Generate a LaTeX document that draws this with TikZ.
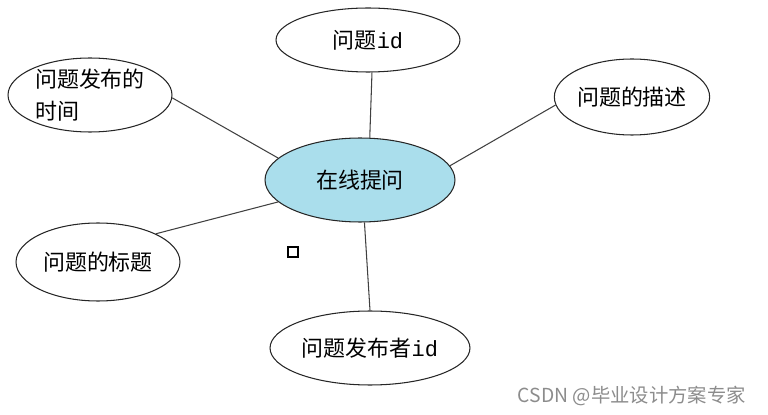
\documentclass[tikz,border=0pt]{standalone}
\usepackage{fontspec}
\setmainfont{Noto Sans CJK SC}
\newfontfamily\idfont{Liberation Mono}
\usetikzlibrary{shapes.geometric}
\definecolor{qblue}{RGB}{170,222,236}
\begin{document}
\begin{tikzpicture}[x=0.02cm,y=-0.02cm,
  every node/.style={font=\fontsize{12.5pt}{18pt}\selectfont},
  attr/.style={draw=black!85,ellipse,line width=0.6pt,inner sep=0pt,align=center},
  link/.style={draw=black!75,line width=0.6pt}]
\useasboundingbox (0,0) rectangle (768,415);
% Central entity
\node[attr,fill=qblue,minimum width=3.8cm,minimum height=1.68cm] (ctr) at (360,180) {在线提问};
% Surrounding attributes
\node[attr,minimum width=3.68cm,minimum height=1.28cm] (qid) at (368,40) {问题{\idfont id}};
\node[attr,align=left,minimum width=3.28cm,minimum height=1.48cm] (qtime) at (90,95) {问题发布的\\时间};
\node[attr,minimum width=3.08cm,minimum height=1.52cm] (qdesc) at (632,97) {问题的描述};
\node[attr,minimum width=3.28cm,minimum height=1.56cm] (qtitle) at (98,262) {问题的标题};
\node[attr,minimum width=4.0cm,minimum height=1.48cm] (qpub) at (370,348) {问题发布者{\idfont id}};
% Links to the centre
\draw[link] (qid.-83) -- (ctr.77);
\draw[link] (qtime.-2) -- (ctr.165);
\draw[link] (qdesc.186) -- (ctr.9);
\draw[link] (qtitle.26) -- (ctr.195);
\draw[link] (ctr.-84) -- (qpub.90);
% stray mark
\draw[semithick] (288,247) rectangle (298,257);
\node[text=black!45,anchor=east,font=\fontsize{11pt}{13pt}\selectfont] (mark) at (752,396) {CSDN @毕业设计方案专家};
\end{tikzpicture}
\end{document}
